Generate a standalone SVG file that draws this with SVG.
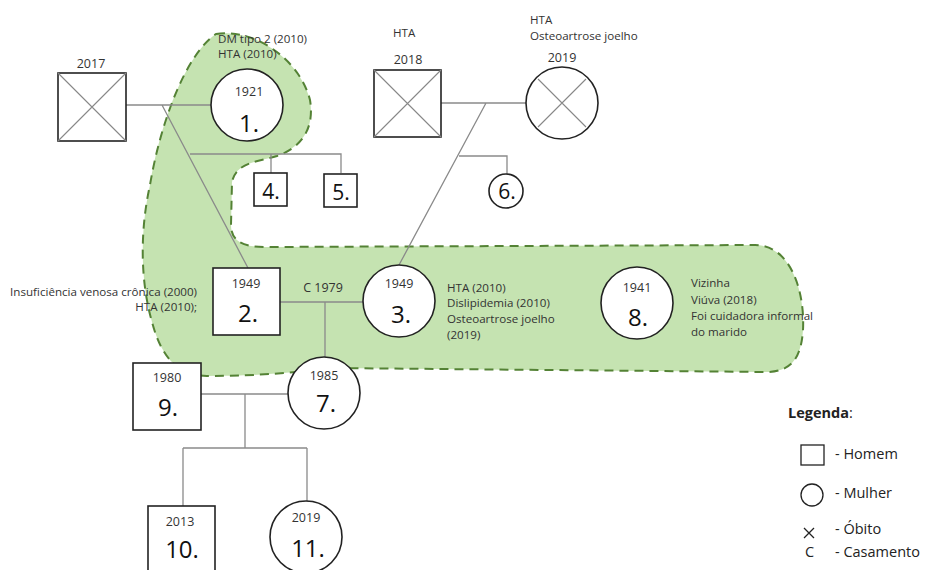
<svg xmlns="http://www.w3.org/2000/svg" width="925" height="570" viewBox="0 0 925 570">
<style>
text{font-family:"Open Sans","Liberation Sans",sans-serif;fill:#333}
.yr{font-size:12.5px;text-anchor:middle}
.num{font-size:24px;text-anchor:middle;fill:#111}
.lbl{font-size:11.6px}
.nd{fill:#fff;stroke:#222;stroke-width:1.6}
.x{stroke:#888;stroke-width:1.1}
.cn{fill:none;stroke:#8a8a8a;stroke-width:1.3}
.lg{font-size:14.5px;fill:#222}
</style>
<rect width="925" height="570" fill="#fff"/>
<path id="area" d="M216,34 C255,28 300,60 310,100 C315,130 300,148 277,156 C258,162 236,162 232,182 L231,225 C231,244 248,247 266,247 L755,245 C790,245 805,290 803,330 C801,360 790,371 768,372 L330,368 C300,372 260,376 207,376 C180,376 162,360 152,322 C140,280 140,230 150,185 C160,125 185,55 216,34 Z" fill="#c5e3b1" stroke="#548235" stroke-width="2" stroke-dasharray="9,6"/>
<g id="connectors">
<path class="cn" d="M126,105 H211 M162,105 L248,268 M190,154 H341 V173 M271,154 V173"/>
<path class="cn" d="M441,103 H526 M486,103 L399,265 M459,156 H507 V174"/>
<path class="cn" d="M280,302 H363 M325,302 V357"/>
<path class="cn" d="M201,394 H288 M245,394 V448 M183,448 H307 M183,448 V506 M307,448 V501"/>
</g>
<g id="n2017">
<text class="yr" x="91" y="68">2017</text>
<rect class="nd" x="58" y="73" width="68" height="68"/>
<path class="x" d="M58,73 L126,141 M126,73 L58,141"/>
</g>
<g id="n1">
<text class="lbl" x="218" y="43">DM tipo 2 (2010)</text>
<text class="lbl" x="218" y="58">HTA (2010)</text>
<circle class="nd" cx="247" cy="105" r="36"/>
<text class="yr" x="249" y="96">1921</text>
<text class="num" x="249" y="132">1.</text>
</g>
<g id="n4"><rect class="nd" x="254" y="173" width="33" height="33"/><text class="num" x="271" y="199" style="font-size:21px">4.</text></g>
<g id="n5"><rect class="nd" x="324" y="174" width="33" height="33"/><text class="num" x="341" y="200" style="font-size:21px">5.</text></g>
<g id="n2018">
<text class="lbl" x="393" y="37">HTA</text>
<text class="yr" x="408" y="64">2018</text>
<rect class="nd" x="374" y="70" width="67" height="67"/>
<path class="x" d="M374,70 L441,137 M441,70 L374,137"/>
</g>
<g id="n2019">
<text class="lbl" x="530" y="24">HTA</text>
<text class="lbl" x="530" y="40">Osteoartrose joelho</text>
<text class="yr" x="562" y="62">2019</text>
<circle class="nd" cx="562" cy="103" r="36"/>
<path class="x" d="M538,79 L586,127 M586,79 L538,127"/>
</g>
<g id="n6"><circle class="nd" cx="506" cy="191" r="17"/><text class="num" x="507" y="199" style="font-size:21px">6.</text></g>
<g id="n2">
<text class="lbl" x="197" y="296" text-anchor="end">Insuficiência venosa crônica (2000)</text>
<text class="lbl" x="197" y="311" text-anchor="end">HTA (2010);</text>
<rect class="nd" x="213" y="268" width="67" height="67"/>
<text class="yr" x="246" y="288">1949</text>
<text class="num" x="248" y="322">2.</text>
</g>
<g id="c1979"><text class="yr" x="323" y="292">C 1979</text></g>
<g id="n3">
<circle class="nd" cx="399" cy="301" r="36"/>
<text class="yr" x="399" y="288">1949</text>
<text class="num" x="401" y="323">3.</text>
<text class="lbl" x="447" y="292">HTA (2010)</text>
<text class="lbl" x="447" y="307">Dislipidemia (2010)</text>
<text class="lbl" x="447" y="323">Osteoartrose joelho</text>
<text class="lbl" x="447" y="339">(2019)</text>
</g>
<g id="n8">
<circle class="nd" cx="637" cy="303" r="36"/>
<text class="yr" x="637" y="292">1941</text>
<text class="num" x="638" y="326">8.</text>
<text class="lbl" x="691" y="287">Vizinha</text>
<text class="lbl" x="691" y="304">Viúva (2018)</text>
<text class="lbl" x="691" y="320">Foi cuidadora informal</text>
<text class="lbl" x="691" y="336">do marido</text>
</g>
<g id="n9">
<rect class="nd" x="133" y="363" width="68" height="67"/>
<text class="yr" x="167" y="382">1980</text>
<text class="num" x="168" y="416">9.</text>
</g>
<g id="n7">
<circle class="nd" cx="324" cy="393" r="36"/>
<text class="yr" x="324" y="380">1985</text>
<text class="num" x="326" y="412">7.</text>
</g>
<g id="n10">
<rect class="nd" x="148" y="506" width="67" height="70"/>
<text class="yr" x="180" y="526">2013</text>
<text class="num" x="182" y="558">10.</text>
</g>
<g id="n11">
<circle class="nd" cx="306" cy="537" r="36"/>
<text class="yr" x="306" y="522">2019</text>
<text class="num" x="308" y="557">11.</text>
</g>
<g id="legend">
<text class="lg" x="788" y="418"><tspan font-weight="bold">Legenda</tspan>:</text>
<rect x="801" y="445" width="23" height="20" fill="#fff" stroke="#222" stroke-width="1.3"/>
<text class="lg" x="835" y="459">- Homem</text>
<circle cx="812" cy="495" r="11" fill="#fff" stroke="#222" stroke-width="1.3"/>
<text class="lg" x="835" y="498">- Mulher</text>
<path d="M804,528 L814,538 M814,528 L804,538" stroke="#222" stroke-width="1.3"/>
<text class="lg" x="835" y="534">- Óbito</text>
<text class="lg" x="805" y="557">C</text>
<text class="lg" x="835" y="557">- Casamento</text>
</g>
</svg>
